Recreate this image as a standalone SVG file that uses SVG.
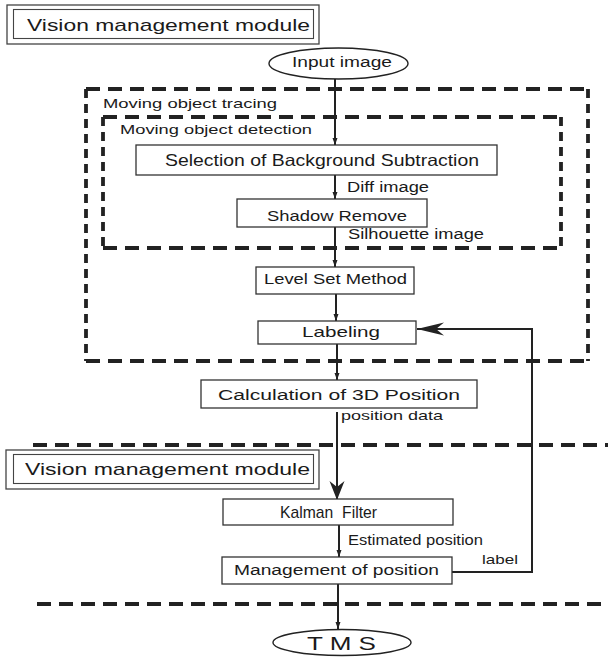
<svg xmlns="http://www.w3.org/2000/svg" width="608" height="657" viewBox="0 0 608 657">
<style>
text{font-family:"Liberation Sans",Arial,sans-serif;fill:#1a1a1a}
.box{fill:#fff;stroke:#333;stroke-width:1.3}
.ell{fill:#fff;stroke:#222;stroke-width:1.4}
.dh{fill:none;stroke:#222;stroke-width:3.8;stroke-dasharray:14 8}
.dv{fill:none;stroke:#222;stroke-width:3.8;stroke-dasharray:9 6}
.ln{fill:none;stroke:#222;stroke-width:2}
</style>
<defs>
<marker id="sm" markerUnits="userSpaceOnUse" markerWidth="8" markerHeight="6" refX="7" refY="3" orient="auto">
<path d="M0,0.5 L7,3 L0,5.5 z" fill="#222"/>
</marker>
<marker id="bigd" markerUnits="userSpaceOnUse" markerWidth="20" markerHeight="16" refX="19" refY="8" orient="auto">
<path d="M0,0.5 L19,8 L0,15.5 L6,8 z" fill="#222"/>
</marker>
<marker id="bigl" markerUnits="userSpaceOnUse" markerWidth="28" markerHeight="14" refX="27" refY="7" orient="auto">
<path d="M0,0.5 L27,7 L0,13.5 L8,7 z" fill="#222"/>
</marker>
</defs>

<g id="frames">
<path class="dh" d="M86,89 H588 M86,361 H588"/>
<path class="dv" d="M86,89 V361 M588,89 V361"/>
<text x="103" y="108" font-size="13.5" textLength="174" lengthAdjust="spacingAndGlyphs">Moving object tracing</text>
<path class="dh" d="M103,117 H561 M103,248 H561"/>
<path class="dv" d="M103,117 V248 M561,117 V248"/>
<text x="120" y="134" font-size="13.5" textLength="192" lengthAdjust="spacingAndGlyphs">Moving object detection</text>
<path class="dh" d="M33,445 H608"/>
<path class="dh" d="M37,604 H608"/>
</g>

<g id="connectors">
<line class="ln" x1="335" y1="79" x2="335" y2="145" marker-end="url(#sm)"/>
<line class="ln" x1="335" y1="175" x2="335" y2="199" marker-end="url(#sm)"/>
<line class="ln" x1="335" y1="227" x2="335" y2="267" marker-end="url(#sm)"/>
<line class="ln" x1="336" y1="294" x2="336" y2="321" marker-end="url(#sm)"/>
<line class="ln" x1="337" y1="344" x2="337" y2="380" marker-end="url(#sm)"/>
<line class="ln" x1="337" y1="412" x2="337" y2="500" marker-end="url(#bigd)"/>
<line class="ln" x1="339" y1="525" x2="339" y2="557" marker-end="url(#sm)"/>
<line class="ln" x1="338" y1="584" x2="338" y2="629" marker-end="url(#sm)"/>
<polyline class="ln" points="452,572 532,572 532,329 417,329" marker-end="url(#bigl)"/>
<text x="347" y="192" font-size="14" textLength="82" lengthAdjust="spacingAndGlyphs">Diff image</text>
<text x="348" y="239" font-size="14" textLength="136" lengthAdjust="spacingAndGlyphs">Silhouette image</text>
<text x="341" y="420" font-size="13" textLength="102" lengthAdjust="spacingAndGlyphs">position data</text>
<text x="348" y="545" font-size="14" textLength="135" lengthAdjust="spacingAndGlyphs">Estimated position</text>
<text x="482" y="564" font-size="13" textLength="36" lengthAdjust="spacingAndGlyphs">label</text>
</g>

<g id="vmm1">
<rect x="7" y="5" width="312" height="39" fill="#fff" stroke="#444" stroke-width="1.3"/>
<rect x="13.5" y="9.5" width="300" height="29" fill="none" stroke="#444" stroke-width="1.1"/>
<text x="27" y="31" font-size="17" textLength="283" lengthAdjust="spacingAndGlyphs">Vision management module</text>
</g>

<g id="input">
<ellipse class="ell" cx="338.5" cy="63.5" rx="69.5" ry="15.5"/>
<text x="292" y="67" font-size="14" textLength="100" lengthAdjust="spacingAndGlyphs">Input image</text>
</g>

<g id="selection">
<rect class="box" x="136" y="145" width="361" height="30"/>
<text x="165" y="166" font-size="16.5" textLength="314" lengthAdjust="spacingAndGlyphs">Selection of Background Subtraction</text>
</g>

<g id="shadow">
<rect class="box" x="237" y="199" width="190" height="28"/>
<text x="267" y="221" font-size="15" textLength="140" lengthAdjust="spacingAndGlyphs">Shadow Remove</text>
</g>

<g id="levelset">
<rect class="box" x="256" y="267" width="158" height="27"/>
<text x="264" y="284" font-size="15" textLength="143" lengthAdjust="spacingAndGlyphs">Level Set Method</text>
</g>

<g id="labeling">
<rect class="box" x="258" y="321" width="158" height="23"/>
<text x="302" y="337" font-size="15" textLength="78" lengthAdjust="spacingAndGlyphs">Labeling</text>
</g>

<g id="calc">
<rect class="box" x="201" y="380" width="276" height="28"/>
<text x="218" y="400" font-size="15.5" textLength="242" lengthAdjust="spacingAndGlyphs">Calculation of 3D Position</text>
</g>

<g id="vmm2">
<rect x="6" y="450" width="313" height="39" fill="#fff" stroke="#444" stroke-width="1.3"/>
<rect x="13.5" y="454.5" width="300" height="29" fill="none" stroke="#444" stroke-width="1.1"/>
<text x="25" y="475" font-size="17" textLength="285" lengthAdjust="spacingAndGlyphs">Vision management module</text>
</g>

<g id="kalman">
<rect class="box" x="223" y="499" width="230" height="26"/>
<text x="280" y="518" font-size="17" textLength="97" lengthAdjust="spacingAndGlyphs" xml:space="preserve">Kalman  Filter</text>
</g>

<g id="management">
<rect class="box" x="222" y="557" width="230" height="27"/>
<text x="234" y="575" font-size="15.5" textLength="205" lengthAdjust="spacingAndGlyphs">Management of position</text>
</g>

<g id="tms">
<ellipse class="ell" cx="342" cy="642.5" rx="69" ry="13"/>
<text x="307" y="650" font-size="18" textLength="69" lengthAdjust="spacingAndGlyphs" xml:space="preserve">T M S</text>
</g>
</svg>
